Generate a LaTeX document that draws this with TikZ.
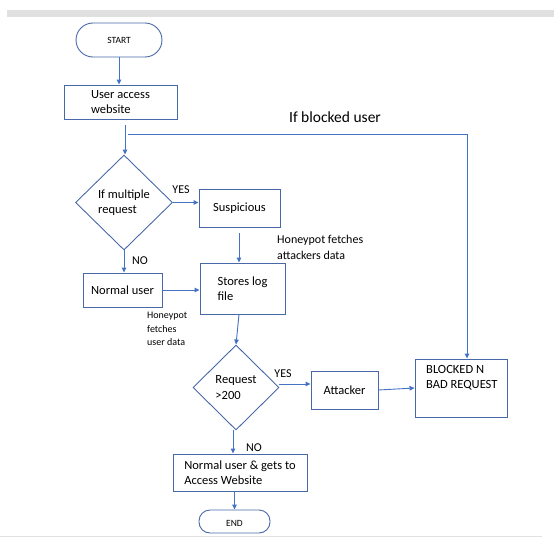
\documentclass[tikz,border=0pt]{standalone}
\usepackage{fontspec}
\setmainfont{Carlito}
\definecolor{boxblue}{RGB}{72, 104, 168}
\definecolor{lineblue}{RGB}{68, 114, 196}
\definecolor{bargray}{RGB}{224, 224, 224}
\usepackage{tikz}
\usetikzlibrary{shapes.geometric, arrows.meta, positioning}

\begin{document}
\begin{tikzpicture}[
      x=1pt, y=-1pt,
      procbox/.style={rectangle, draw=boxblue, line width=0.9pt, inner sep=2pt, align=left, font=\fontsize{12.5}{15.5}\selectfont},
      decbox/.style={diamond, draw=boxblue, line width=0.9pt, inner sep=0pt, align=left, font=\fontsize{12.5}{15.5}\selectfont},
      termbox/.style={rectangle, rounded corners=11pt, draw=boxblue, line width=0.9pt, inner sep=0pt, font=\fontsize{9.5}{11}\selectfont},
      tag/.style={font=\fontsize{12}{15}\selectfont, inner sep=0pt},
      note/.style={align=left, inner sep=0pt},
      line/.style={draw=lineblue, line width=0.9pt, -{Triangle[length=5pt, width=4.5pt]}}
    ]
      \useasboundingbox (0,0) rectangle (554,538);
      \fill[bargray] (7,10) rectangle (554,17);
      \draw[bargray, line width=1.2pt] (0,536.5) -- (542,536.5);

      % boxes
      \node (start) [termbox, minimum width=86pt, minimum height=34pt, rounded corners=17pt] at (119,40) {START};
      \node (user) [procbox, minimum width=113pt, minimum height=34pt] at (120.5,102) {User access\\website};
      \node (multi) [decbox, minimum width=97pt, minimum height=95pt] at (124,202.5) {If multiple\\request};
      \node (susp) [procbox, minimum width=81pt, minimum height=38pt] at (239.5,208) {Suspicious};
      \node (normal) [procbox, minimum width=79pt, minimum height=34pt] at (122.5,290) {Normal user};
      \node (stores) [procbox, minimum width=85pt, minimum height=51pt] at (242.5,288.5) {Stores log\\file};
      \node (req) [decbox, minimum width=86pt, minimum height=85pt] at (236,387.5) {Request\\>200};
      \node (attacker) [procbox, minimum width=67pt, minimum height=38pt] at (344.5,390) {Attacker};
      \node (blocked) [procbox, minimum width=92pt, minimum height=58pt] at (461,388) {};
      \node (blockedtxt) [note, anchor=north west, font=\fontsize{12.5}{15.5}\selectfont] at (426,365) {BLOCKED N\\BAD REQUEST};
      \node (access) [procbox, minimum width=134pt, minimum height=37pt] at (240,472.5) {Normal user \& gets to\\Access Website};
      \node (end) [termbox, minimum width=71pt, minimum height=23pt, text height=10pt, text depth=-2pt] at (234.5,521.5) {END};

      % labels
      \node (blockedlbl) [tag, font=\fontsize{15.5}{18}\selectfont] at (335,117) {If blocked user};
      \node (yes1) [tag] at (181,190) {YES};
      \node (no1) [tag] at (140,261) {NO};
      \node (yes2) [tag] at (283,374) {YES};
      \node (no2) [tag] at (254,448) {NO};
      \node (hpattack) [note, anchor=west, font=\fontsize{12}{16}\selectfont] at (277,247) {Honeypot fetches\\attackers data};
      \node (hpuser) [note, anchor=west, font=\fontsize{10}{13.5}\selectfont] at (147,329) {Honeypot\\fetches\\user data};

      \coordinate (split) at (128,134.5);

      % arrows
      \draw[line] (start) -- (start |- user.north);
      \draw[line, shorten <=6pt] (user.south -| multi) ++(1,0) -- ([xshift=1pt]multi.north);
      \draw[line] (split) -| ([xshift=6pt]blocked.north);
      \draw[line] (multi.east) -- (multi.east -| susp.west);
      \draw[line, shorten <=6pt] (susp.south -| stores) ++(-3.5,0) -- ([xshift=-3.5pt]stores.north);
      \draw[line] (multi.south) -- (multi.south |- normal.north);
      \draw[line] (normal.east) -- (normal.east -| stores.west);
      \draw[line] ([xshift=-3.5pt]stores.south) -- (req.north);
      \draw[line] ([yshift=3.5pt]req.east) -- ([yshift=3.5pt]req.east -| attacker.west);
      \draw[line] (attacker.east) -- (blocked.west);
      \draw[line] ([xshift=-3pt]req.south) -- ([xshift=-3pt]req.south |- access.north);
      \draw[line] (access.south -| end) -- (end.north);
    \end{tikzpicture}
\end{document}
